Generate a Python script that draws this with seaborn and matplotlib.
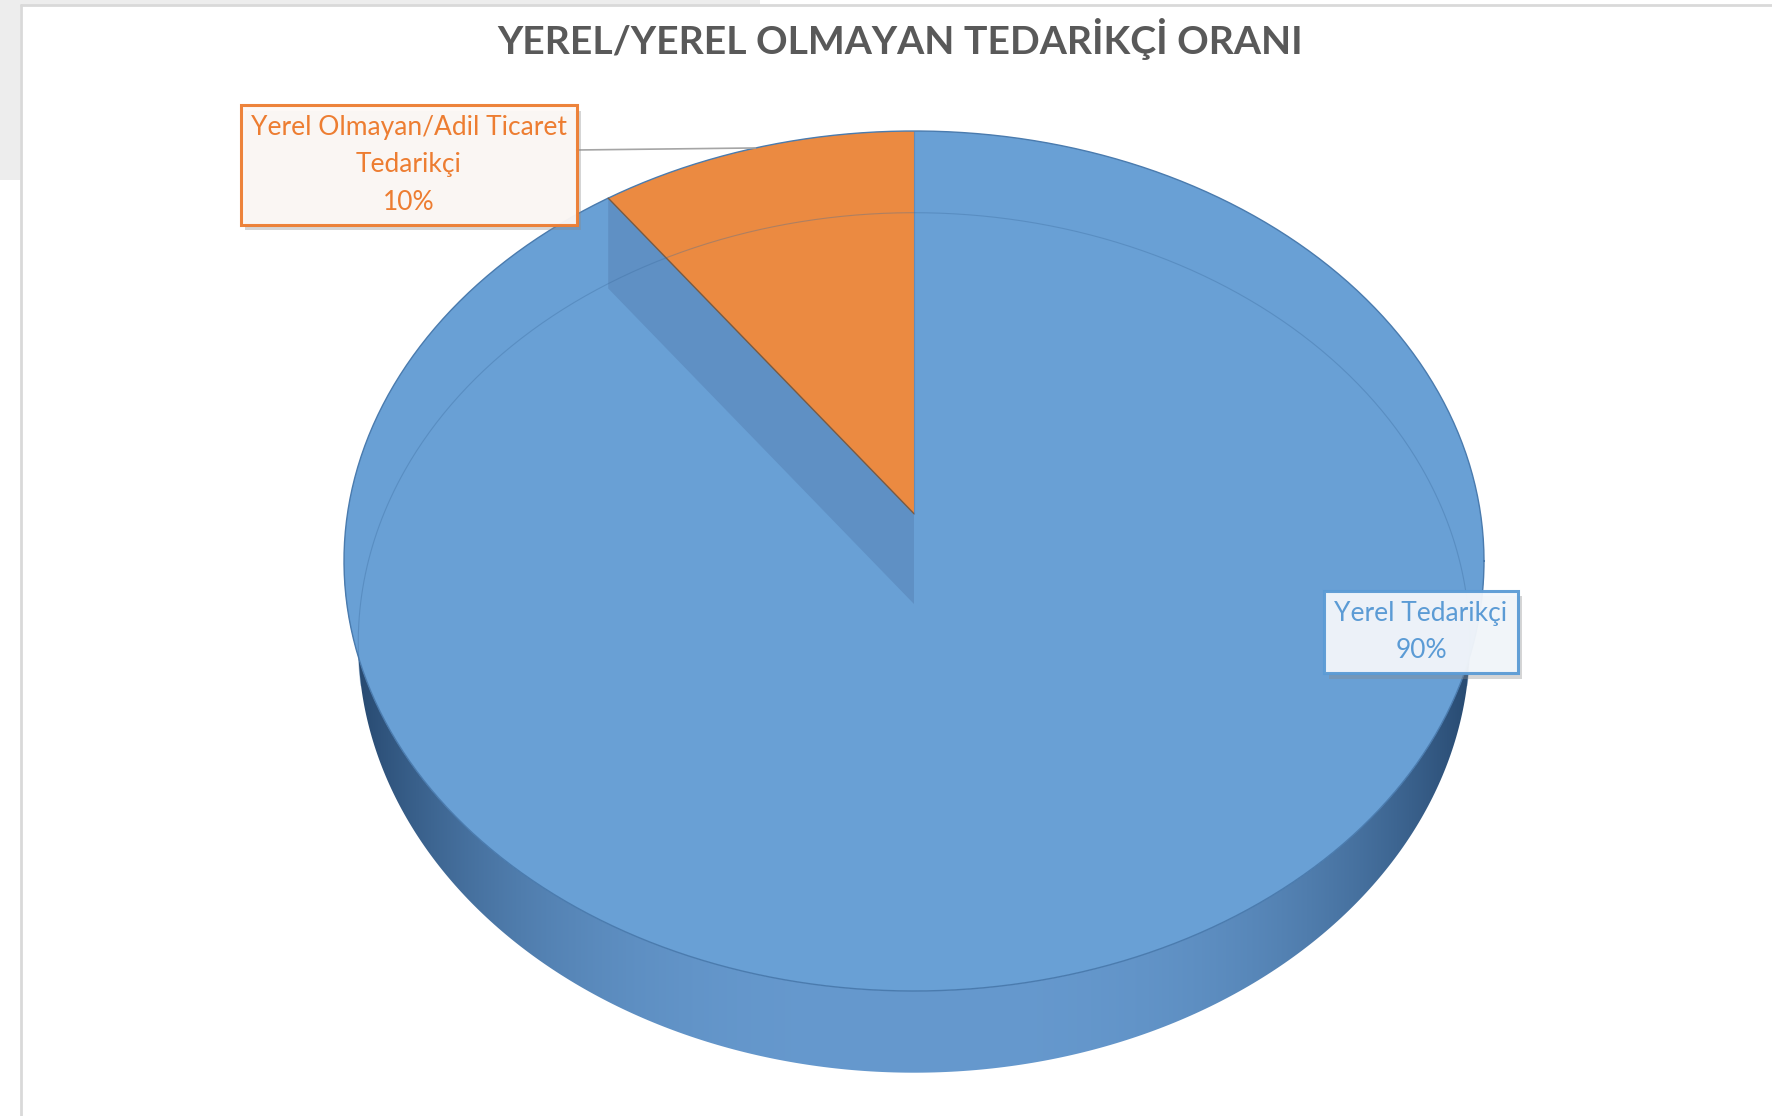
import numpy as np
import matplotlib
matplotlib.use("Agg")
import matplotlib.pyplot as plt
import matplotlib.patheffects as pe
from matplotlib.patches import Polygon, Rectangle
from matplotlib.lines import Line2D
from matplotlib.colors import to_rgb
import seaborn as sns

sns.set_theme(style="white")
plt.rcParams["font.family"] = ["Lato", "DejaVu Sans"]

# data
title = "YEREL/YEREL OLMAYAN TEDARİKÇİ ORANI"
categories = ["Yerel Olmayan/Adil Ticaret\nTedarikçi", "Yerel Tedarikçi"]
shares = [10, 90]
slice_colors = ["#EB8A41", "#69A0D5"]
label_colors = ["#ED7D31", "#5B9BD5"]
label_faces = ["#FDF8F5", "#F3F7FC"]

# layout (pixels of the 1772x1116 picture)
W, H = 1772, 1116
CX, CY, RX, RY = 914, 561, 570, 430
K = 0.11          # perspective shift of the pie centre
DEPTH = 0.19      # height of the cylinder side
WALL = 0.21       # height of the cut wall
BOT = 0.975       # bottom rim is a bit narrower
label_pos = [(409, 165), (1421, 632)]


def px(x, y):
    return (x - CX) / RX, (CY - y) / RY


def project(r, theta):
    u, v = r * np.cos(theta), r * np.sin(theta)
    w = 1 + K * v
    return u * np.sqrt(1 - K * K) / w, (v + K) / w


fig = plt.figure(figsize=(W / 100, H / 100), dpi=100)
ax = fig.add_axes([0, 0, 1, 1])

# side of the cylinder with a shaded gradient
t = np.linspace(np.pi, 2 * np.pi, 300)
side = np.vstack([np.column_stack([np.cos(t), np.sin(t)]),
                  np.column_stack([BOT * np.cos(t[::-1]), np.sin(t[::-1]) - DEPTH])])
side_patch = Polygon(side, closed=True, fc="none", ec="none")
ax.add_patch(side_patch)
gx = np.linspace(-1, 1, 600)
shade = np.clip(np.abs(gx), 0, 1) ** 3.0
light, dark = np.array(to_rgb("#6699CE")), np.array(to_rgb("#23446A"))
grad = light[None, :] * (1 - shade[:, None]) + dark[None, :] * shade[:, None]
img = ax.imshow(np.repeat(grad[None, :, :], 2, axis=0), extent=[-1, 1, -1.25, 0.05],
                aspect="auto", zorder=1, interpolation="bilinear")
img.set_clip_path(side_patch)

# top faces
total = sum(shares)
edges = 90 + np.concatenate([[0], np.cumsum(shares)]) / total * 360
apex = np.array(project(0, 0))
for i, (a0, a1) in enumerate(zip(edges[:-1], edges[1:])):
    th = np.radians(np.linspace(a0, a1, 400))
    rx, ry = project(1, th)
    pts = np.vstack([apex, np.column_stack([rx, ry])])
    ax.add_patch(Polygon(pts, closed=True, fc=slice_colors[i], ec="none", zorder=2))

# rim line of the top face
tt = np.linspace(0, 2 * np.pi, 500)
ax.plot(np.cos(tt), np.sin(tt), color="#4A7BAE", lw=1.0, zorder=3)

# wall under the cut edge of the small slice
cut = np.radians(edges[1])
rim = np.array(project(1, cut))
wall = np.array([rim, apex, apex - [0, WALL], rim - [0, WALL]])
ax.add_patch(Polygon(wall, closed=True, fc="#5F90C4", ec="none", zorder=3))
ax.plot([rim[0], apex[0]], [rim[1], apex[1]], color="#7A5A40", lw=1.0, zorder=4)
ax.plot([apex[0], apex[0]], [apex[1], 1], color="#5C7FA8", lw=0.8, alpha=0.6, zorder=4)

# bottom rim seen through the top face
tb = np.linspace(-0.1, np.pi + 0.1, 400)
ax.plot(BOT * np.cos(tb), np.sin(tb) - DEPTH, color="#3C6C9E", lw=0.8, alpha=0.35, zorder=5)

# leader line for the small slice
mid = np.radians((edges[0] + edges[1]) / 2)
lx, ly = project(1.0, mid)
bx, by = px(576, 150)
ax.plot([bx, lx], [by, ly], color="#A5A5A5", lw=1.2, zorder=5)

# data labels
for i, (name, v) in enumerate(zip(categories, shares)):
    x, y = px(*label_pos[i])
    txt = ax.text(x, y, f"{name}\n{v / total * 100:.0f}%", ha="center", va="center",
                  fontsize=19, color=label_colors[i], linespacing=1.62, zorder=10,
                  bbox=dict(boxstyle="square,pad=0.38", fc=label_faces[i], ec=label_colors[i],
                            lw=2.2, alpha=0.95))
    txt.get_bbox_patch().set_path_effects(
        [pe.SimplePatchShadow(offset=(3, -4), shadow_rgbFace="#888888", alpha=0.35), pe.Normal()])

ax.set_xlim(-CX / RX, (W - CX) / RX)
ax.set_ylim((CY - H) / RY, CY / RY)
ax.axis("off")

# title
fig.text(900 / W, 1 - 39 / H, title, ha="center", va="center", fontsize=28.2,
         fontweight="bold", color="#595959")

# chart frame
fig.add_artist(Rectangle((0, 1 - 180 / H), 20 / W, 180 / H, transform=fig.transFigure,
                         fc="#EDEDED", ec="none"))
fig.add_artist(Rectangle((0, 1 - 5 / H), 760 / W, 5 / H, transform=fig.transFigure,
                         fc="#EDEDED", ec="none"))
fig.add_artist(Line2D([21 / W, 21 / W], [0, 1 - 5 / H], transform=fig.transFigure,
                      color="#D9D9D9", lw=2))
fig.add_artist(Line2D([21 / W, 1], [1 - 5 / H, 1 - 5 / H], transform=fig.transFigure,
                      color="#D9D9D9", lw=2))

fig.savefig("out.png", dpi=100, facecolor="white")
